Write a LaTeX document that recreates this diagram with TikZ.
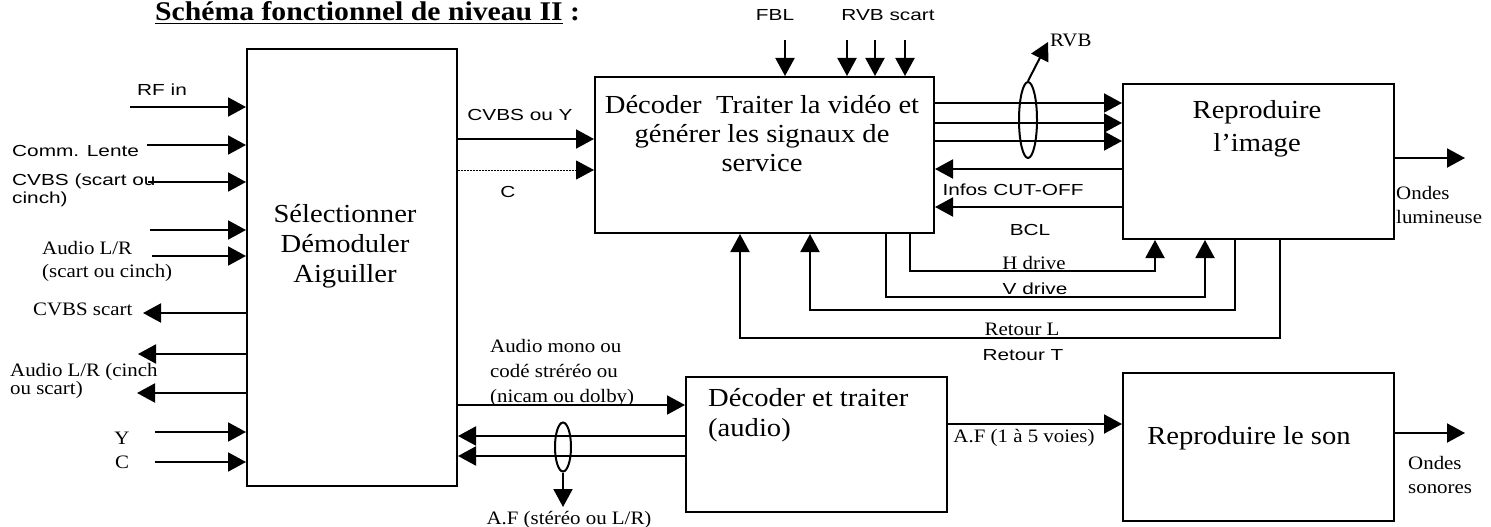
\documentclass[tikz,border=0pt]{standalone}
\usepackage{fontspec}
\setmainfont{Liberation Serif}
\newfontfamily\serifw[FakeStretch=1.1]{Liberation Serif}
\newfontfamily\sansw[FakeStretch=1.3]{Liberation Sans}
\usetikzlibrary{arrows.meta,shapes.geometric}

\tikzset{
  x=1pt, y=-1pt,
  box/.style={draw, line width=2pt, inner sep=0pt},
  wire/.style={line width=2pt},
  tip/.style={-{Triangle[length=18pt,width=19pt]}},
  arr/.style={wire, tip},
  bundle/.style={draw, ellipse, line width=2pt, inner sep=0pt},
  bigtxt/.style={font=\serifw\fontsize{26}{30}\selectfont, align=center, inner sep=0pt},
  lab/.style={font=\serifw\fontsize{19}{21}\selectfont, inner sep=0pt, align=left},
  slab/.style={font=\sansw\fontsize{16}{18}\selectfont, inner sep=0pt, align=left},
}

\begin{document}
\begin{tikzpicture}
\useasboundingbox (0,0) rectangle (1491,527);

% title
\node[anchor=base west, inner sep=0pt, font=\serifw\bfseries\fontsize{27}{30}\selectfont]
  (title) at (155,21) {\underline{Schéma fonctionnel de niveau II} :};

% functional blocks
\node[box, minimum width=210pt, minimum height=437pt, anchor=north west] (A) at (246,48) {};
\node[box, minimum width=339pt, minimum height=156pt, anchor=north west] (B) at (594,76) {};
\node[box, minimum width=271pt, minimum height=155pt, anchor=north west] (C) at (1122,83) {};
\node[box, minimum width=261pt, minimum height=135pt, anchor=north west] (D) at (685,376) {};
\node[box, minimum width=271pt, minimum height=148pt, anchor=north west] (E) at (1122,372) {};

\node[bigtxt] (Atxt) at (345,246) {Sélectionner\\Démoduler\\Aiguiller};
\node[bigtxt, font=\serifw\fontsize{26}{29}\selectfont] (Btxt) at (762,134)
  {Décoder~~Traiter la vidéo et\\générer les signaux de\\service};
\node[bigtxt, font=\serifw\fontsize{26}{33}\selectfont] (Ctxt) at (1257,129) {Reproduire\\l’image};
\node[bigtxt, align=left, anchor=west] (Dtxt) at (708,415) {Décoder et traiter\\(audio)};
\node[bigtxt] (Etxt) at (1249,438) {Reproduire le son};

% inputs on the left
\draw[arr] (130,107) -- (A.west |- 0,107);
\node[slab] (rfin) at (162,90) {RF in};
\draw[arr] (147,145) -- (A.west |- 0,145);
\node[slab, anchor=west] (lente) at (12,151) {Comm. Lente};
\draw[arr] (148,182) -- (A.west |- 0,182);
\node[slab, anchor=west] (cvbsin) at (12,190) {CVBS (scart ou\\cinch)};
\draw[arr] (150,230) -- (A.west |- 0,230);
\draw[arr] (152,256) -- (A.west |- 0,256);
\node[lab, anchor=west] (audin) at (42,248) {Audio L/R};
\node[lab, anchor=west] (audin2) at (42,273) {(scart ou cinch)};

% outputs on the left
\draw[arr] (A.west |- 0,313) -- (143,313);
\node[lab, anchor=west] (cvbsout) at (33,309) {CVBS scart};
\draw[arr] (A.west |- 0,354) -- (138,354);
\draw[arr] (A.west |- 0,393) -- (137,393);
\node[lab, anchor=west, font=\serifw\fontsize{19}{16}\selectfont] (audout) at (10,381) {Audio L/R (cinch\\ou scart)};

\draw[arr] (155,432) -- (A.west |- 0,432);
\node[lab] (yin) at (122,438) {Y};
\draw[arr] (155,462) -- (A.west |- 0,462);
\node[lab] (cin) at (122,462) {C};

% video path
\draw[arr] (A.east |- 0,139) -- (B.west |- 0,139);
\node[slab] (cvbsy) at (520,115) {CVBS ou Y};
\draw[line width=1pt, dash pattern=on 1.5pt off 1.5pt, tip]
  (A.east |- 0,170) -- (B.west |- 0,170);
\node[slab] (chroma) at (508,192) {C};

% scart inputs from above
\draw[arr] (785,40) -- (785,0 |- B.north);
\node[slab] (fbl) at (775,15) {FBL};
\draw[arr] (847,40) -- (847,0 |- B.north);
\draw[arr] (875,40) -- (875,0 |- B.north);
\draw[arr] (905,40) -- (905,0 |- B.north);
\node[slab] (rvbscart) at (888,15) {RVB scart};

% RGB drive bundle
\draw[arr] (B.east |- 0,103) -- (C.west |- 0,103);
\draw[arr] (B.east |- 0,123) -- (C.west |- 0,123);
\draw[arr] (B.east |- 0,141) -- (C.west |- 0,141);
\node[bundle, minimum width=18pt, minimum height=76pt] (rvbb) at (1028,120) {};
\coordinate (rvbtip) at (1048,42);
\draw[arr] (rvbb.north) -- (rvbtip);
\node[lab, anchor=west] (rvb) at (1050,40) {RVB};

% feedback from the picture tube
\draw[arr] (C.west |- 0,169) -- (B.east |- 0,169);
\node[slab] (cutoff) at (1013,190) {Infos CUT-OFF};
\draw[arr] (C.west |- 0,207) -- (B.east |- 0,207);
\node[slab] (bcl) at (1030,230) {BCL};

% deflection drives and returns
\draw[arr] (910,0 |- B.south) -- (910,271) -- (1155,271) -- (1155,0 |- C.south);
\node[lab, anchor=base] (hdrive) at (1034,269) {H drive};
\draw[arr] (886,0 |- B.south) -- (886,297) -- (1205,297) -- (1205,0 |- C.south);
\node[slab, anchor=base] (vdrive) at (1035,294) {V drive};
\draw[arr] (1235,0 |- C.south) -- (1235,310) -- (810,310) -- (810,0 |- B.south);
\draw[arr] (1280,0 |- C.south) -- (1280,338) -- (740,338) -- (740,0 |- B.south);
\node[lab, anchor=base] (retl) at (1022,335) {Retour L};
\node[slab] (rett) at (1023,355) {Retour T};

% light output
\draw[arr] (C.east |- 0,158) -- (1465,158);
\node[lab, anchor=west, font=\serifw\fontsize{19}{24}\selectfont] (light) at (1396,205) {Ondes\\lumineuse};

% audio path
\draw[arr] (A.east |- 0,405) -- (D.west |- 0,405);
\node[lab, anchor=west, font=\serifw\fontsize{19}{25}\selectfont] (audmono) at (490,373)
  {Audio mono ou\\codé stréréo ou\\(nicam ou dolby)};
\draw[arr] (D.west |- 0,436) -- (A.east |- 0,436);
\draw[arr] (D.west |- 0,456) -- (A.east |- 0,456);
\node[bundle, minimum width=16pt, minimum height=49pt] (afb) at (563,447) {};
\coordinate (aftip) at (563,507);
\draw[arr] (afb.south) -- (aftip);
\node[lab] (afout) at (569,520) {A.F (stéréo ou L/R)};

\draw[arr] (D.east |- 0,424) -- (E.west |- 0,424);
\node[lab] (af15) at (1024,438) {A.F (1 à 5 voies)};

% sound output
\draw[arr] (E.east |- 0,433) -- (1465,433);
\node[lab, anchor=west, font=\serifw\fontsize{19}{24}\selectfont] (sound) at (1408,475) {Ondes\\sonores};
\end{tikzpicture}
\end{document}
